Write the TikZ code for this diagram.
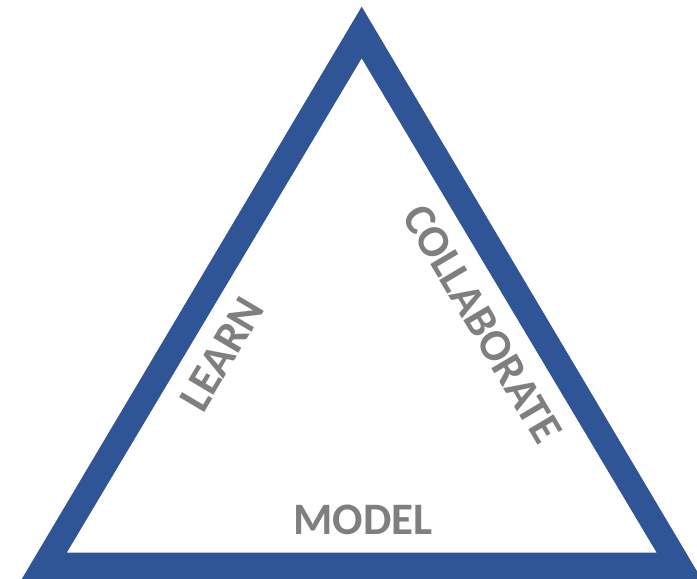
\documentclass[tikz,border=0pt]{standalone}
\usepackage{fontspec}
\setmainfont{Carlito}
\definecolor{triblue}{HTML}{2F5597}
\definecolor{txtgray}{HTML}{7F7F7F}
\begin{document}
\begin{tikzpicture}[x=1pt,y=-1pt,
  tri/.style={fill=triblue, even odd rule},
  lbl/.style={text=txtgray, font=\fontsize{45}{54}\selectfont\bfseries, inner sep=0pt}]
\clip (0,0) rectangle (697,579);
\fill[white] (0,0) rectangle (697,579);
\fill[tri] (361.7,6.7) -- (21.5,579.5) -- (701.9,579.5) -- cycle
           (361.7,58.3) -- (66.7,552.7) -- (656.7,552.7) -- cycle;
\node[lbl] (model) at (363,520) {MODEL};
\node[lbl, rotate=59.3] (learn) at (222,354) {LEARN};
\node[lbl, rotate=-59.3] (collab) at (482.5,324) {COLLABORATE};
\end{tikzpicture}
\end{document}
